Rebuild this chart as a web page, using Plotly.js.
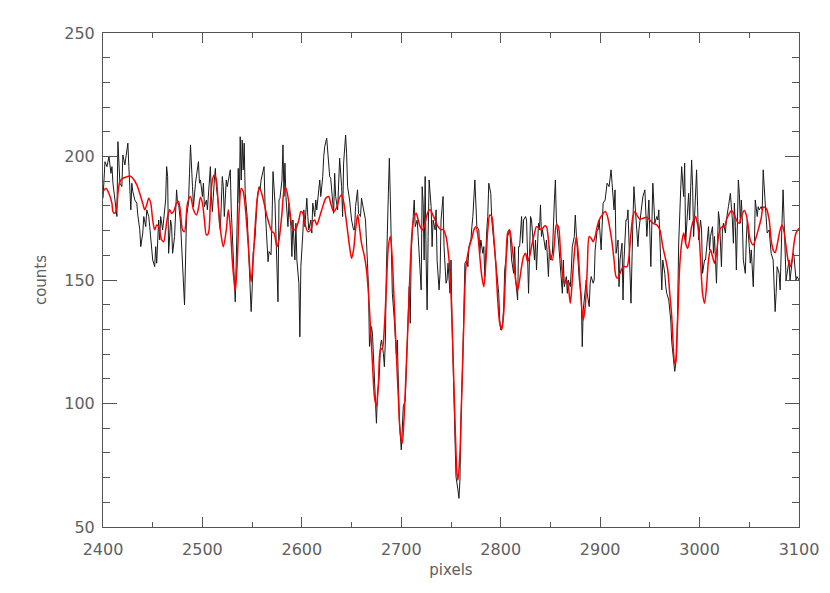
<!DOCTYPE html>
<html>
<head>
<meta charset="utf-8">
<script src="https://cdn.plot.ly/plotly-3.0.1.min.js"></script>
<style>
  html, body { margin: 0; padding: 0; background: #fff; }
  #chart { width: 830px; height: 593px; }
</style>
</head>
<body>
<div id="chart"></div>
<script>
const spectrumPixels = [
  2400, 2402, 2404, 2406, 2408, 2409, 2410, 2412, 2414, 2415, 2417, 2419, 2420, 2422, 2424, 2425, 2426, 2428, 2429, 2430,
  2432, 2434, 2435, 2437, 2438, 2440, 2441, 2443, 2444, 2446, 2447, 2449, 2450, 2452, 2453, 2454, 2456, 2457, 2458, 2460,
  2461, 2463, 2464, 2465, 2466, 2468, 2469, 2470, 2472, 2474, 2475, 2476, 2478, 2480, 2482,
  2484, 2486, 2487, 2488, 2490, 2491, 2493, 2494, 2496, 2497, 2498, 2500, 2501, 2502, 2504, 2505, 2506, 2508, 2509, 2510,
  2512, 2513, 2514, 2516, 2517, 2518, 2520, 2521, 2522, 2524, 2525, 2526, 2528, 2529, 2531, 2532, 2533, 2535, 2536, 2537,
  2538, 2539, 2540, 2541, 2542, 2543, 2545, 2546, 2547, 2549, 2550, 2551, 2553, 2554, 2555, 2557, 2558, 2559, 2561, 2562,
  2563, 2565, 2566, 2567, 2569, 2570, 2571, 2573,
  2574, 2576, 2577, 2578, 2580, 2581, 2582, 2583, 2584, 2586, 2587, 2589, 2590, 2591, 2593, 2594, 2595, 2597, 2598, 2599,
  2601, 2602, 2603, 2605, 2606, 2607, 2609, 2610, 2611, 2613, 2614, 2615, 2617, 2618, 2619, 2621, 2622, 2623, 2625, 2626,
  2628, 2629, 2630, 2632, 2633, 2634, 2636, 2637, 2638, 2640, 2641, 2642, 2644, 2645, 2646, 2648, 2649, 2650, 2652, 2653,
  2654, 2656, 2657,
  2659, 2660, 2662, 2663, 2664, 2666, 2667, 2668, 2670, 2671, 2672, 2674, 2675, 2676, 2678, 2679, 2680, 2682, 2683, 2684,
  2685, 2687, 2688, 2689, 2690, 2691, 2693, 2694, 2695, 2696, 2697, 2698, 2700, 2701, 2702, 2704, 2705, 2706, 2708, 2709,
  2710, 2712, 2713, 2714, 2716, 2717, 2718, 2720, 2721, 2722, 2723, 2724, 2725, 2726, 2727, 2728, 2730, 2731, 2732, 2734,
  2735, 2736, 2738, 2739, 2740, 2742,
  2743, 2745, 2746, 2747, 2749, 2750, 2751, 2753, 2754, 2755, 2757, 2758, 2759, 2760, 2762, 2763, 2764, 2766, 2767, 2768,
  2770, 2771, 2772, 2774, 2775, 2776, 2778, 2779, 2780, 2782, 2783, 2784, 2786, 2787, 2788, 2790, 2791, 2792, 2794, 2795,
  2796, 2798, 2799, 2800, 2802, 2803, 2804, 2806, 2807, 2809, 2810, 2811, 2813, 2814, 2815, 2817, 2818, 2819, 2821, 2822,
  2823, 2825, 2826, 2827,
  2828, 2830, 2831, 2832, 2834, 2835, 2836, 2838, 2839, 2840, 2841, 2842, 2844, 2845, 2846, 2848, 2849, 2850, 2852, 2853,
  2854, 2855, 2856, 2858, 2859, 2860, 2862, 2863, 2864, 2866, 2867, 2868, 2870, 2871, 2872, 2874, 2875, 2876, 2878, 2879,
  2881, 2882, 2883, 2885, 2886, 2887, 2889, 2890, 2891, 2893, 2894, 2895, 2897, 2898, 2899, 2901, 2902, 2903, 2905, 2906,
  2907, 2909, 2910, 2911,
  2912, 2914, 2915, 2916, 2918, 2919, 2920, 2922, 2923, 2924, 2926, 2927, 2928, 2930, 2931, 2933, 2934, 2935, 2937, 2938,
  2939, 2941, 2942, 2943, 2945, 2946, 2947, 2949, 2950, 2951, 2953, 2954, 2955, 2957, 2958, 2959, 2961, 2962, 2963, 2965,
  2966, 2967, 2969, 2970, 2971, 2972, 2974, 2975, 2976, 2977, 2978, 2979, 2981, 2982, 2984, 2985, 2986, 2988, 2989, 2990,
  2992, 2993, 2994,
  2995, 2997, 2998, 2999, 3001, 3002, 3003, 3005, 3006, 3007, 3009, 3010, 3011, 3013, 3014, 3015, 3017, 3018, 3019, 3020,
  3022, 3023, 3024, 3026, 3027, 3029, 3030, 3031, 3033, 3034, 3035, 3036, 3037, 3038, 3039, 3040, 3041, 3042, 3043, 3044,
  3046, 3047, 3048, 3050, 3051, 3052, 3054, 3055, 3056, 3058, 3059, 3060, 3062, 3063, 3064, 3066, 3067, 3068, 3070, 3071,
  3072, 3074, 3075, 3076, 3077, 3078, 3080, 3081, 3083, 3084, 3085, 3086, 3087, 3088, 3090, 3091, 3093, 3094, 3095, 3097,
  3098, 3100,
];
const spectrumCounts = [
  183.1, 197.9, 195.9, 200.0, 193.2, 195.9, 189.2, 181.1, 175.7, 206.0, 189.2, 187.8, 200.6, 196.6, 202.0, 205.4, 195.9, 178.4, 189.2, 185.8,
  182.4, 181.1, 176.3, 170.3, 163.5, 169.0, 175.7, 171.6, 178.4, 175.7, 171.6, 163.5, 158.1, 155.4, 163.5, 156.8, 174.3, 166.2, 175.7, 170.3,
  174.3, 182.4, 195.9, 191.9, 160.8, 174.3, 171.6, 160.8, 167.6, 186.5, 181.1, 181.1, 173.0, 154.1, 139.9,
  176.0, 181.1, 193.2, 204.7, 187.8, 179.7, 189.2, 191.9, 197.9, 189.2, 190.5, 183.8, 189.2, 179.7, 182.4, 178.4, 183.8, 195.9, 183.8, 177.7,
  190.5, 195.2, 187.8, 181.1, 173.0, 170.3, 191.9, 187.8, 175.7, 190.5, 187.8, 190.5, 194.6, 178.4, 160.8, 150.0, 141.2, 174.3, 195.2, 181.1,
  208.0, 190.5, 206.7, 194.6, 205.4, 185.1, 175.7, 166.2, 154.1, 137.2, 146.0, 160.8, 167.6, 177.0, 182.4, 187.8, 186.5, 190.5, 195.2, 195.9,
  179.7, 163.5, 157.4, 161.5, 160.2, 174.3, 193.9, 181.1,
  170.3, 141.2, 182.4, 183.1, 190.5, 204.7, 183.8, 197.3, 183.8, 171.6, 181.1, 171.6, 159.5, 174.3, 158.1, 173.0, 158.1, 148.7, 127.0, 155.4,
  169.0, 178.4, 171.6, 183.1, 175.7, 170.3, 174.3, 169.0, 181.1, 175.7, 182.4, 178.4, 186.5, 190.5, 183.8, 191.9, 200.0, 204.0, 207.4, 201.3,
  191.9, 191.2, 185.1, 177.0, 193.2, 183.8, 178.4, 190.5, 199.3, 187.8, 175.7, 197.3, 208.7, 201.3, 187.8, 182.4, 177.0, 174.3, 170.3, 170.3,
  179.7, 186.5, 177.0,
  175.7, 183.1, 178.4, 177.0, 174.3, 156.8, 147.3, 123.1, 131.1, 128.4, 117.6, 104.1, 92.0, 102.8, 112.2, 123.1, 125.7, 120.3, 114.9, 125.7,
  154.1, 185.1, 199.3, 182.4, 158.1, 144.6, 133.8, 127.1, 120.3, 125.7, 106.8, 93.3, 81.2, 87.9, 98.7, 101.4, 113.6, 128.4, 147.3, 132.5,
  160.8, 175.7, 182.4, 171.6, 174.3, 167.6, 158.1, 146.0, 187.8, 181.1, 158.1, 191.9, 158.1, 137.9, 167.6, 190.5, 179.7, 163.5, 174.3, 170.3,
  178.4, 158.1, 146.0, 152.7, 174.3, 183.8,
  163.5, 148.7, 150.0, 156.8, 144.6, 158.1, 133.8, 106.8, 86.6, 70.4, 65.0, 61.6, 69.0, 93.3, 120.3, 140.6, 156.8, 158.1, 155.4, 163.5,
  166.2, 171.6, 175.7, 190.5, 182.4, 171.6, 170.3, 160.8, 166.2, 160.8, 163.5, 151.4, 170.3, 175.7, 189.2, 185.1, 174.3, 170.3, 160.8, 155.4,
  151.4, 144.6, 133.8, 129.8, 132.5, 139.2, 154.1, 160.8, 167.6, 170.3, 164.9, 158.1, 152.7, 163.5, 150.0, 141.9, 163.5, 163.5, 175.7, 164.9,
  174.3, 175.7, 174.3, 160.8,
  144.6, 175.7, 174.3, 169.0, 158.1, 166.2, 154.1, 173.0, 170.3, 180.4, 167.6, 170.3, 164.9, 162.2, 166.2, 151.4, 163.5, 158.1, 160.8, 174.3,
  182.4, 190.5, 174.3, 166.2, 160.8, 152.7, 144.6, 158.1, 147.3, 151.4, 144.6, 150.0, 147.3, 154.1, 163.5, 167.6, 176.3, 169.0, 158.1, 150.0,
  143.3, 123.0, 137.9, 144.6, 150.0, 144.6, 139.2, 148.7, 151.4, 148.7, 150.0, 162.2, 170.3, 170.3, 174.3, 162.2, 175.7, 181.1, 182.4, 185.1,
  189.2, 187.8, 191.9, 194.6,
  189.2, 178.4, 186.5, 160.8, 166.2, 147.3, 158.1, 164.9, 141.9, 158.1, 174.3, 174.3, 178.4, 158.1, 140.6, 174.3, 187.8, 181.1, 170.3, 163.5,
  170.3, 178.4, 179.7, 183.8, 186.5, 175.7, 167.6, 182.4, 160.8, 155.4, 189.2, 181.1, 173.0, 175.7, 174.3, 178.4, 158.1, 146.0, 158.1, 152.7,
  147.3, 144.6, 141.9, 137.9, 133.8, 125.0, 118.0, 113.0, 116.0, 121.0, 140.0, 165.0, 186.5, 195.9, 183.8, 197.3, 164.9, 178.4, 185.1, 174.3,
  198.6, 187.8, 167.6,
  175.7, 194.6, 179.7, 166.2, 174.3, 170.3, 152.7, 158.1, 158.1, 163.5, 171.6, 162.2, 167.6, 171.6, 160.8, 167.6, 148.7, 163.5, 177.7, 174.3,
  155.4, 170.3, 173.0, 169.0, 174.3, 179.7, 182.4, 185.1, 174.3, 164.9, 181.1, 171.6, 154.1, 178.4, 190.5, 185.1, 173.0, 182.4, 174.3, 158.1,
  152.7, 166.2, 174.3, 163.5, 156.8, 162.2, 147.3, 160.8, 182.4, 175.7, 179.7, 178.4, 179.7, 178.4, 194.6, 181.1, 171.6, 169.0, 170.3, 166.2,
  160.8, 158.1, 147.3, 137.2, 144.6, 155.4, 152.7, 146.0, 174.3, 186.5, 174.3, 160.8, 150.0, 152.7, 158.1, 150.0, 156.8, 160.8, 159.5, 150.0,
  151.4, 150.0,
];

// smoothed fit (red)
const fitPixels = [
  2400, 2403, 2406, 2409, 2410, 2412, 2414, 2415, 2417, 2420, 2424, 2427, 2430, 2434, 2437, 2440, 2442, 2444, 2446, 2448,
  2450, 2452, 2454, 2456, 2459, 2461, 2463, 2465, 2467, 2469, 2471, 2474, 2476, 2478, 2480, 2482, 2485, 2488, 2491, 2494,
  2496, 2498, 2500, 2502, 2504, 2506, 2508, 2510, 2512, 2514, 2516, 2519, 2521, 2524, 2526, 2528, 2530, 2532, 2533, 2535,
  2537, 2539, 2541, 2543, 2546, 2548, 2549, 2551, 2553, 2555, 2557, 2559, 2562, 2565, 2568, 2570, 2572, 2575, 2577, 2580,
  2582, 2584, 2587, 2589, 2591, 2594, 2597, 2599, 2601, 2603, 2606, 2609, 2611, 2613, 2615, 2618, 2621, 2624, 2627, 2629,
  2632, 2635, 2638, 2640, 2642, 2645, 2648, 2650, 2652, 2654, 2656, 2657, 2660, 2663, 2665, 2667, 2669, 2671, 2673, 2675,
  2677, 2679, 2681, 2683, 2685, 2687, 2689, 2691, 2693, 2695, 2697, 2699, 2701, 2703, 2705, 2707, 2709, 2711, 2713, 2715,
  2717, 2719, 2721, 2723, 2725, 2727, 2729, 2731, 2734, 2737, 2740, 2742, 2745, 2748, 2750, 2752, 2754, 2756, 2757, 2759,
  2761, 2763, 2765, 2767, 2769, 2771, 2773, 2775, 2777, 2779, 2781, 2783, 2785, 2787, 2789, 2791, 2793, 2795, 2797, 2799,
  2801, 2803, 2805, 2807, 2809, 2811, 2813, 2815, 2817, 2819, 2821, 2823, 2825, 2827, 2829, 2831, 2834, 2836, 2839, 2841,
  2844, 2846, 2848, 2850, 2852, 2854, 2856, 2858, 2860, 2862, 2864, 2866, 2868, 2870, 2872, 2874, 2876, 2878, 2880, 2882,
  2883, 2885, 2887, 2889, 2891, 2893, 2895, 2897, 2899, 2902, 2905, 2907, 2910, 2912, 2914, 2916, 2918, 2920, 2922, 2924,
  2927, 2929, 2931, 2933, 2935, 2937, 2940, 2943, 2947, 2950, 2953, 2957, 2960, 2963, 2966, 2968, 2970, 2972, 2974, 2975,
  2976, 2977, 2978, 2980, 2982, 2984, 2986, 2988, 2990, 2992, 2994, 2996, 2997, 2999, 3001, 3003, 3005, 3007, 3009, 3011,
  3013, 3015, 3017, 3019, 3021, 3023, 3025, 3027, 3030, 3032, 3035, 3038, 3040, 3042, 3045, 3047, 3049, 3051, 3054, 3056,
  3059, 3062, 3064, 3067, 3070, 3072, 3074, 3076, 3078, 3081, 3083, 3085, 3087, 3089, 3091, 3093, 3095, 3097, 3100,
];
const fitCounts = [
  185.8, 187.1, 185.0, 181.0, 177.7, 177.0, 180.0, 185.0, 189.8, 191.2, 191.8, 192.1, 191.2, 188.5, 185.0, 181.0, 178.4, 180.5, 183.1, 181.1,
  174.3, 170.3, 172.3, 171.6, 166.2, 165.5, 170.3, 175.7, 178.4, 177.0, 177.7, 181.1, 181.8, 177.0, 170.3, 169.6, 181.1, 183.8, 178.4, 176.3,
  179.0, 183.5, 181.1, 174.3, 168.2, 168.9, 181.1, 190.5, 192.5, 190.5, 179.7, 167.6, 163.5, 170.3, 178.4, 171.6, 158.1, 148.7, 145.3, 156.8,
  178.4, 187.1, 185.8, 179.7, 164.9, 152.7, 149.3, 158.1, 171.6, 182.4, 187.1, 185.8, 181.1, 175.7, 171.6, 169.6, 169.0, 163.5, 166.2, 177.0,
  185.8, 187.1, 181.1, 174.3, 170.3, 170.9, 174.3, 177.7, 177.0, 173.0, 169.6, 170.3, 173.6, 174.3, 172.3, 175.7, 179.7, 183.1, 183.8, 181.1,
  177.7, 179.4, 183.5, 184.4, 181.7, 173.0, 163.5, 158.8, 162.2, 170.3, 176.3, 174.3, 164.9, 159.5, 154.1, 144.6, 131.1, 116.3, 102.8, 98.7,
  108.2, 121.7, 122.4, 131.1, 147.3, 163.5, 167.6, 158.1, 139.2, 120.3, 102.8, 87.9, 83.9, 96.0, 115.0, 135.2, 155.4, 170.3, 175.7, 177.0,
  174.3, 171.6, 170.3, 171.6, 175.0, 177.7, 178.4, 177.0, 174.3, 171.6, 170.3, 170.5, 167.6, 158.1, 144.6, 120.3, 93.3, 71.7, 69.0, 79.8,
  106.8, 133.8, 155.4, 160.8, 164.2, 166.9, 170.3, 171.6, 168.2, 159.5, 151.4, 147.3, 156.8, 170.3, 176.3, 175.7, 167.6, 156.8, 141.9, 132.5,
  129.8, 136.5, 154.1, 169.0, 170.3, 164.9, 158.1, 150.0, 146.0, 150.0, 155.4, 159.5, 160.8, 157.4, 159.5, 163.5, 169.0, 171.6, 170.9, 170.3,
  171.9, 171.6, 166.2, 159.5, 158.1, 164.9, 172.3, 171.6, 162.2, 152.7, 148.7, 150.0, 147.3, 140.6, 150.0, 160.8, 167.6, 160.8, 147.3, 136.5,
  133.8, 139.2, 154.1, 167.6, 166.9, 165.5, 167.6, 171.6, 174.3, 176.3, 177.7, 176.3, 170.3, 165.0, 158.1, 151.4, 150.7, 152.7, 154.7, 155.4,
  155.4, 159.5, 169.0, 175.7, 177.7, 176.3, 174.6, 175.0, 175.4, 174.3, 173.0, 172.3, 170.3, 163.5, 158.1, 154.1, 144.6, 135.2, 120.0, 116.0,
  117.0, 125.0, 133.8, 155.4, 164.9, 169.0, 164.9, 162.8, 166.2, 171.6, 174.3, 175.7, 174.3, 170.3, 158.1, 144.6, 140.6, 147.3, 158.1, 162.2,
  159.5, 156.8, 160.8, 167.6, 170.9, 171.6, 171.6, 174.3, 177.0, 178.1, 176.3, 173.6, 173.0, 175.7, 178.1, 176.3, 171.6, 166.2, 164.2, 166.2,
  170.3, 175.0, 179.4, 179.0, 174.3, 166.2, 162.2, 161.1, 164.2, 170.3, 172.3, 169.6, 163.5, 158.1, 155.4, 158.1, 164.9, 169.0, 171.0,
];

const AXIS_COLOR = '#555';
const FONT = { family: 'DejaVu Sans, sans-serif', size: 16, color: '#606060' };

function renderSpectrum() {
  const container = document.getElementById('chart');

  const traces = [
    {
      x: spectrumPixels,
      y: spectrumCounts,
      type: 'scatter',
      mode: 'lines',
      line: { color: '#1a1a1a', width: 1 },
      hoverinfo: 'skip',
    },
    {
      x: fitPixels,
      y: fitCounts,
      type: 'scatter',
      mode: 'lines',
      line: { color: '#ff0000', width: 1.5, shape: 'spline', smoothing: 0.8 },
      hoverinfo: 'skip',
    },
  ];

  const layout = {
    width: 830,
    height: 593,
    showlegend: false,
    font: FONT,
    margin: { l: 103, r: 31, t: 33, b: 66 },
    xaxis: {
      range: [2400, 3100],
      dtick: 100,
      tick0: 2400,
      ticks: 'inside',
      ticklen: 10,
      tickcolor: AXIS_COLOR,
      showline: true,
      linecolor: AXIS_COLOR,
      linewidth: 1,
      mirror: 'ticks',
      showgrid: false,
      zeroline: false,
      ticklabelstandoff: 8,
      minor: { dtick: 50, ticks: 'inside', ticklen: 5, tickcolor: AXIS_COLOR, showgrid: false },
      title: { text: 'pixels', font: { size: 15, color: '#606060' }, standoff: 6 },
    },
    yaxis: {
      range: [50, 250],
      dtick: 50,
      tick0: 50,
      ticks: 'inside',
      ticklen: 14,
      tickcolor: AXIS_COLOR,
      showline: true,
      linecolor: AXIS_COLOR,
      linewidth: 1,
      mirror: 'ticks',
      showgrid: false,
      zeroline: false,
      ticklabelstandoff: 4,
      minor: { dtick: 10, ticks: 'inside', ticklen: 7, tickcolor: AXIS_COLOR, showgrid: false },
      title: { text: 'counts', font: { size: 15, color: '#606060' }, standoff: 14 },
    },
    plot_bgcolor: '#fff',
    paper_bgcolor: '#fff',
  };

  Plotly.newPlot(container, traces, layout, { staticPlot: true, displayModeBar: false });
}

renderSpectrum();
</script>
</body>
</html>
